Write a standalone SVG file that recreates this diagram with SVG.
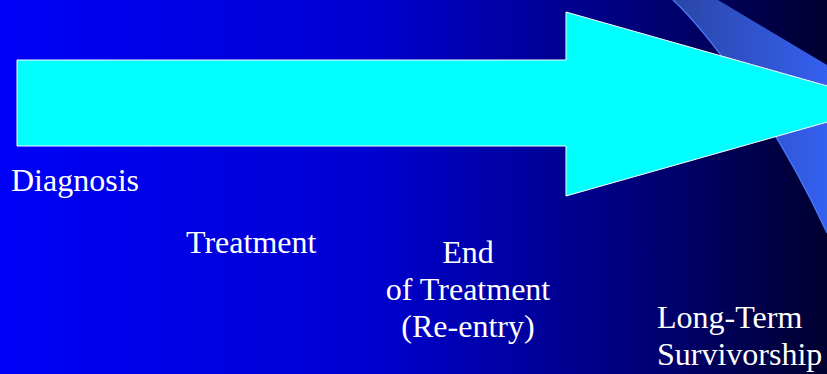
<svg xmlns="http://www.w3.org/2000/svg" width="827" height="374" viewBox="0 0 827 374">
  <defs>
    <linearGradient id="bg" x1="0" y1="0" x2="827" y2="0" gradientUnits="userSpaceOnUse">
      <stop offset="0" stop-color="#0000F8"/>
      <stop offset="0.45" stop-color="#0000D0"/>
      <stop offset="0.75" stop-color="#000080"/>
      <stop offset="1" stop-color="#000030"/>
    </linearGradient>
    <linearGradient id="band" x1="673" y1="0" x2="827" y2="0" gradientUnits="userSpaceOnUse">
      <stop offset="0" stop-color="#2A46A6"/>
      <stop offset="1" stop-color="#3560F0"/>
    </linearGradient>
    <style>
      text { font-size: 32px; fill: #FFFFFF; }
      .lbl { font-family: "Liberation Serif", serif; }
    </style>
  </defs>
  <rect x="0" y="0" width="827" height="374" fill="url(#bg)"/>
  <g id="swoosh">
    <path d="M673,0 L718,0 L827,65 L827,233 C770,110 700,25 673,0 Z" fill="url(#band)"/>
    <path d="M827,233 C770,110 700,25 673,0" fill="none" stroke="#4A7CFF" stroke-width="1.2"/>
  </g>
  <g id="arrow">
    <path d="M17,60 L566,60 L566,12 L891,104 L566,196 L566,146 L17,146 Z" fill="#00FFFF" stroke="#FFFFFF" stroke-width="1"/>
  </g>
  <g id="diagnosis">
    <text class="lbl" x="11" y="191">Diagnosis</text>
  </g>
  <g id="treatment">
    <text class="lbl" x="186" y="253">Treatment</text>
  </g>
  <g id="end-of-treatment">
    <text class="lbl" x="468" y="263" text-anchor="middle">End</text>
    <text class="lbl" x="468" y="300" text-anchor="middle">of Treatment</text>
    <text class="lbl" x="468" y="337" text-anchor="middle">(Re-entry)</text>
  </g>
  <g id="long-term-survivorship">
    <text class="lbl" x="657" y="328">Long-Term</text>
    <text class="lbl" x="657" y="365">Survivorship</text>
  </g>
  <g id="connectors"/>
</svg>
